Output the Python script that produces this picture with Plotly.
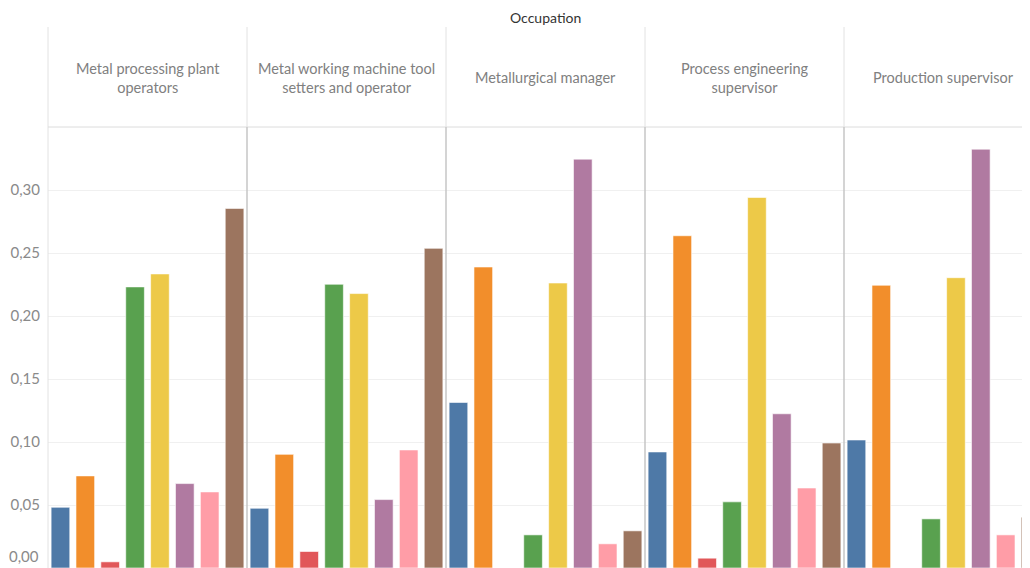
import plotly.graph_objects as go

# ---- data ----
occupations = [
    "Metal processing plant<br>operators",
    "Metal working machine tool<br>setters and operator",
    "Metallurgical manager",
    "Process engineering<br>supervisor",
    "Production supervisor",
]
groups = ["G1", "G2", "G3", "G4", "G5", "G6", "G7", "G8"]
colors = ["#4E79A7", "#F28E2B", "#E15759", "#59A14F",
          "#EDC948", "#B07AA1", "#FF9DA7", "#9C755F"]

vals_metal_processing = [0.0482, 0.0731, 0.0049, 0.2231, 0.2334, 0.0670, 0.0604, 0.2854]
vals_machine_tool = [0.0474, 0.0902, 0.0131, 0.2252, 0.2178, 0.0543, 0.0937, 0.2537]
vals_metallurgical = [0.1314, 0.2389, 0.0, 0.0263, 0.2262, 0.3245, 0.0192, 0.0295]
vals_process_eng = [0.0921, 0.2637, 0.0078, 0.0525, 0.2941, 0.1224, 0.0635, 0.0992]
vals_production = [0.1016, 0.2244, 0.0, 0.0390, 0.2304, 0.3324, 0.0263, 0.0403]
all_vals = [vals_metal_processing, vals_machine_tool, vals_metallurgical,
            vals_process_eng, vals_production]

y_ticks = [0.05, 0.10, 0.15, 0.20, 0.25, 0.30]

# ---- layout geometry (window pixels; page body has an 8px margin) ----
OFF = 8
WIN_W, WIN_H = 1030, 568
W, H = WIN_W - OFF, WIN_H - OFF
ML_WIN, MT_WIN = 48, 127          # plot area left / top in window pixels
PW = 199                          # panel width
ML, MT = ML_WIN - OFF, MT_WIN - OFF
plot_w = W - ML
plot_h = H - MT


def px(x):
    """window x pixel -> paper fraction"""
    return (x - OFF - ML) / plot_w


def py(y):
    """window y pixel -> paper fraction"""
    return (H - (y - OFF)) / plot_h


fig = go.Figure()
layout_axes = {}
for i, vals in enumerate(all_vals):
    xa = "x" if i == 0 else f"x{i+1}"
    fig.add_trace(go.Bar(
        x=groups, y=vals, xaxis=xa, yaxis="y",
        marker=dict(color=colors, line=dict(color="rgba(255,255,255,0.6)", width=1)),
        showlegend=False, hovertemplate="%{y:.3f}<extra></extra>",
    ))
    x0 = ML_WIN + PW * i
    x1 = min(ML_WIN + PW * (i + 1), WIN_W)
    rng_end = -0.5 + 8 * (x1 - x0) / PW
    key = "xaxis" if i == 0 else f"xaxis{i+1}"
    layout_axes[key] = dict(
        domain=[max(0, px(x0)), min(1, px(x1))], anchor="y", type="category",
        categoryorder="array", categoryarray=groups,
        range=[-0.5, rng_end], showticklabels=False, showgrid=False,
        zeroline=False, showline=False, fixedrange=True,
    )

fig.update_layout(**layout_axes)
fig.update_layout(
    width=W, height=H,
    margin=dict(l=ML, r=0, t=MT, b=0, pad=0),
    paper_bgcolor="white", plot_bgcolor="white",
    separators=",.",
    bargap=0.25,
    font=dict(family="Lato", color="#888888", size=12),
    yaxis=dict(
        range=[0, 0.35], tickvals=y_ticks, tickformat=".2f",
        showgrid=True, gridcolor="#f0f0f0", gridwidth=1,
        zeroline=False, showline=False, ticks="",
        ticklabelstandoff=7,
        tickfont=dict(family="Lato", size=15, color="#8a8a8a"),
        fixedrange=True,
    ),
)

line_light = "#e2e2e2"
line_dark = "#c6c6c6"
shapes = []
# left axis line
shapes.append(dict(type="line", xref="paper", yref="paper",
                   x0=px(ML_WIN), x1=px(ML_WIN), y0=py(27), y1=py(WIN_H),
                   line=dict(color=line_light, width=1)))
# header bottom line
shapes.append(dict(type="line", xref="paper", yref="paper",
                   x0=px(ML_WIN), x1=px(WIN_W), y0=py(MT_WIN), y1=py(MT_WIN),
                   line=dict(color="#dcdcdc", width=1)))
for i in range(1, 5):
    xx = ML_WIN + PW * i
    shapes.append(dict(type="line", xref="paper", yref="paper",
                       x0=px(xx), x1=px(xx), y0=py(27), y1=py(MT_WIN),
                       line=dict(color=line_light, width=1)))
    shapes.append(dict(type="line", xref="paper", yref="paper",
                       x0=px(xx), x1=px(xx), y0=py(MT_WIN), y1=py(WIN_H),
                       line=dict(color=line_dark, width=1.5)))
fig.update_layout(shapes=shapes)

annotations = []
for i, name in enumerate(occupations):
    cx = ML_WIN + PW * i + PW / 2
    annotations.append(dict(
        text=name, xref="paper", yref="paper", x=px(cx), y=py(78),
        xanchor="center", yanchor="middle", showarrow=False, align="center",
        font=dict(family="Lato", size=14.5, color="#808080"),
    ))
annotations.append(dict(
    text="Occupation", xref="paper", yref="paper",
    x=px(ML_WIN + PW * 2.5), y=py(17), xanchor="center", yanchor="middle",
    showarrow=False, font=dict(family="Lato", size=14, color="#333333"),
))
annotations.append(dict(
    text="0,00", xref="paper", yref="paper", x=px(41), y=py(567),
    xanchor="right", yanchor="bottom", showarrow=False,
    font=dict(family="Lato", size=15, color="#8a8a8a"),
))
fig.update_layout(annotations=annotations)

fig.write_html("out.html")
